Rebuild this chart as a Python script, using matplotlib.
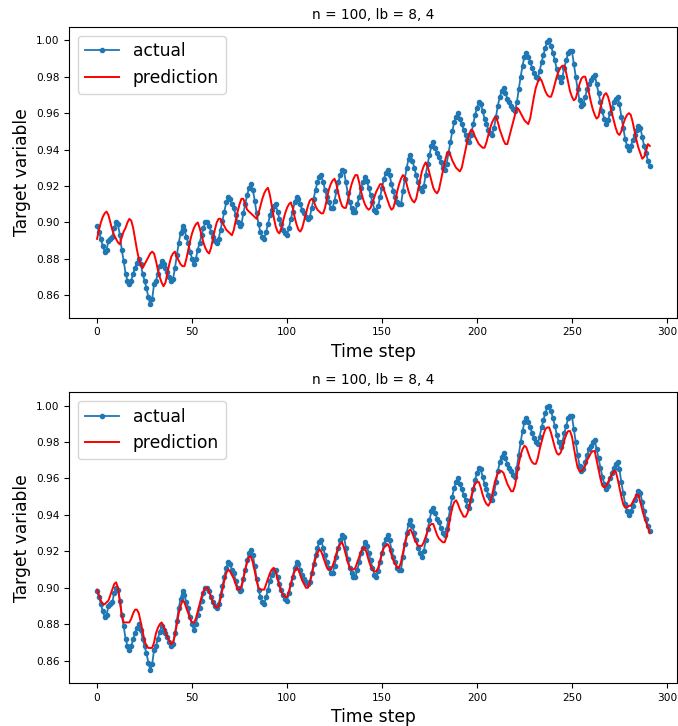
import numpy as np
import matplotlib
matplotlib.use('Agg')
import matplotlib.pyplot as plt


titleText = 'n = 100, lb = 8, 4'

# target variable, one value per time step (0 .. 291)
actual = [
    0.898, 0.895, 0.891, 0.887, 0.884, 0.885, 0.890, 0.891, 0.892, 0.897,
    0.900, 0.899, 0.893, 0.885, 0.879, 0.872, 0.868, 0.866, 0.868, 0.872,
    0.875, 0.878, 0.880, 0.877, 0.872, 0.868, 0.864, 0.859, 0.855, 0.858,
    0.866, 0.868, 0.872, 0.876, 0.879, 0.877, 0.875, 0.873, 0.870, 0.868,
    0.869, 0.875, 0.882, 0.889, 0.894, 0.898, 0.896, 0.892, 0.889, 0.884,
    0.880, 0.877, 0.880, 0.885, 0.889, 0.893, 0.897, 0.900, 0.900, 0.898,
    0.895, 0.892, 0.890, 0.889, 0.891, 0.896, 0.901, 0.906, 0.911, 0.914,
    0.913, 0.910, 0.908, 0.904, 0.900, 0.898, 0.899, 0.905, 0.910, 0.915,
    0.919, 0.921, 0.918, 0.912, 0.905, 0.899, 0.895, 0.892, 0.891, 0.895,
    0.899, 0.904, 0.907, 0.909, 0.910, 0.906, 0.902, 0.899, 0.896, 0.894,
    0.893, 0.897, 0.902, 0.906, 0.911, 0.914, 0.913, 0.910, 0.907, 0.905,
    0.903, 0.902, 0.903, 0.908, 0.913, 0.918, 0.922, 0.925, 0.926, 0.922,
    0.918, 0.914, 0.911, 0.908, 0.908, 0.912, 0.917, 0.922, 0.926, 0.929,
    0.928, 0.922, 0.916, 0.911, 0.908, 0.906, 0.906, 0.910, 0.914, 0.919,
    0.922, 0.925, 0.923, 0.919, 0.915, 0.911, 0.907, 0.906, 0.909, 0.914,
    0.919, 0.924, 0.927, 0.929, 0.926, 0.921, 0.917, 0.914, 0.911, 0.910,
    0.910, 0.917, 0.924, 0.930, 0.935, 0.937, 0.934, 0.930, 0.926, 0.922,
    0.919, 0.917, 0.920, 0.926, 0.932, 0.937, 0.942, 0.944, 0.941, 0.938,
    0.936, 0.933, 0.930, 0.929, 0.932, 0.938, 0.944, 0.950, 0.955, 0.958,
    0.960, 0.957, 0.954, 0.951, 0.948, 0.945, 0.944, 0.948, 0.954, 0.959,
    0.963, 0.966, 0.965, 0.961, 0.957, 0.954, 0.951, 0.949, 0.948, 0.952,
    0.958, 0.964, 0.969, 0.972, 0.974, 0.971, 0.968, 0.966, 0.964, 0.962,
    0.961, 0.966, 0.973, 0.980, 0.986, 0.991, 0.993, 0.991, 0.988, 0.985,
    0.982, 0.980, 0.979, 0.983, 0.988, 0.992, 0.996, 0.999, 1.000, 0.997,
    0.993, 0.989, 0.984, 0.980, 0.977, 0.980, 0.985, 0.989, 0.993, 0.994,
    0.994, 0.987, 0.980, 0.973, 0.967, 0.964, 0.965, 0.969, 0.973, 0.976,
    0.978, 0.980, 0.981, 0.976, 0.971, 0.966, 0.961, 0.957, 0.954, 0.956,
    0.960, 0.963, 0.966, 0.968, 0.969, 0.965, 0.958, 0.952, 0.946, 0.942,
    0.940, 0.942, 0.945, 0.948, 0.951, 0.953, 0.952, 0.947, 0.942, 0.938,
    0.934, 0.931,
]

# first model: lags the target by a few steps
predictionA = [
    0.891, 0.896, 0.900, 0.903, 0.905, 0.906, 0.904, 0.900, 0.896, 0.893,
    0.891, 0.889, 0.888, 0.892, 0.895, 0.897, 0.900, 0.902, 0.901, 0.897,
    0.891, 0.885, 0.880, 0.877, 0.875, 0.877, 0.879, 0.881, 0.883, 0.884,
    0.883, 0.879, 0.874, 0.870, 0.867, 0.865, 0.867, 0.872, 0.877, 0.881,
    0.883, 0.884, 0.881, 0.879, 0.877, 0.876, 0.876, 0.880, 0.885, 0.890,
    0.894, 0.897, 0.899, 0.900, 0.897, 0.893, 0.889, 0.886, 0.884, 0.883,
    0.886, 0.891, 0.896, 0.900, 0.902, 0.902, 0.900, 0.898, 0.896, 0.895,
    0.894, 0.893, 0.896, 0.901, 0.906, 0.910, 0.913, 0.913, 0.910, 0.907,
    0.906, 0.905, 0.904, 0.903, 0.902, 0.905, 0.909, 0.913, 0.916, 0.918,
    0.919, 0.915, 0.909, 0.903, 0.898, 0.895, 0.894, 0.897, 0.901, 0.905,
    0.908, 0.910, 0.911, 0.908, 0.903, 0.899, 0.896, 0.895, 0.897, 0.901,
    0.905, 0.909, 0.912, 0.913, 0.912, 0.909, 0.907, 0.906, 0.905, 0.905,
    0.908, 0.913, 0.918, 0.921, 0.923, 0.924, 0.921, 0.916, 0.912, 0.909,
    0.908, 0.908, 0.912, 0.917, 0.921, 0.924, 0.926, 0.926, 0.922, 0.917,
    0.913, 0.910, 0.908, 0.907, 0.908, 0.911, 0.914, 0.917, 0.919, 0.921,
    0.921, 0.918, 0.915, 0.912, 0.909, 0.907, 0.908, 0.912, 0.917, 0.921,
    0.924, 0.926, 0.925, 0.921, 0.917, 0.914, 0.912, 0.911, 0.913, 0.918,
    0.923, 0.928, 0.931, 0.933, 0.931, 0.927, 0.923, 0.919, 0.917, 0.916,
    0.918, 0.923, 0.928, 0.933, 0.937, 0.939, 0.937, 0.934, 0.932, 0.930,
    0.929, 0.928, 0.930, 0.935, 0.940, 0.945, 0.949, 0.951, 0.950, 0.947,
    0.945, 0.943, 0.942, 0.941, 0.941, 0.944, 0.948, 0.952, 0.955, 0.957,
    0.958, 0.955, 0.951, 0.948, 0.945, 0.943, 0.943, 0.947, 0.951, 0.955,
    0.959, 0.963, 0.962, 0.960, 0.958, 0.956, 0.955, 0.954, 0.957, 0.963,
    0.969, 0.974, 0.977, 0.979, 0.978, 0.975, 0.972, 0.970, 0.969, 0.969,
    0.972, 0.976, 0.980, 0.983, 0.985, 0.986, 0.986, 0.982, 0.977, 0.972,
    0.969, 0.967, 0.968, 0.972, 0.976, 0.979, 0.980, 0.980, 0.976, 0.971,
    0.966, 0.962, 0.959, 0.957, 0.958, 0.963, 0.967, 0.970, 0.971, 0.969,
    0.965, 0.960, 0.956, 0.952, 0.949, 0.948, 0.950, 0.954, 0.957, 0.959,
    0.960, 0.959, 0.955, 0.950, 0.945, 0.941, 0.938, 0.935, 0.936, 0.939,
    0.943, 0.942,
]

# second model: follows the target closely
predictionB = [
    0.899, 0.896, 0.893, 0.891, 0.891, 0.892, 0.893, 0.896, 0.899, 0.902,
    0.903, 0.900, 0.893, 0.885, 0.881, 0.881, 0.881, 0.881, 0.883, 0.886,
    0.888, 0.888, 0.886, 0.881, 0.876, 0.871, 0.868, 0.867, 0.867, 0.867,
    0.870, 0.875, 0.878, 0.880, 0.881, 0.879, 0.876, 0.873, 0.871, 0.869,
    0.870, 0.874, 0.880, 0.886, 0.890, 0.893, 0.892, 0.889, 0.886, 0.883,
    0.881, 0.881, 0.883, 0.887, 0.891, 0.895, 0.898, 0.900, 0.900, 0.898,
    0.895, 0.892, 0.890, 0.889, 0.890, 0.894, 0.899, 0.904, 0.908, 0.910,
    0.909, 0.907, 0.905, 0.902, 0.899, 0.899, 0.901, 0.905, 0.910, 0.914,
    0.917, 0.917, 0.914, 0.909, 0.904, 0.900, 0.899, 0.899, 0.899, 0.902,
    0.905, 0.908, 0.910, 0.911, 0.909, 0.905, 0.901, 0.898, 0.896, 0.895,
    0.895, 0.898, 0.902, 0.906, 0.909, 0.911, 0.910, 0.907, 0.904, 0.902,
    0.900, 0.900, 0.903, 0.907, 0.912, 0.916, 0.919, 0.921, 0.920, 0.917,
    0.914, 0.911, 0.910, 0.910, 0.912, 0.915, 0.919, 0.922, 0.924, 0.925,
    0.922, 0.918, 0.914, 0.911, 0.910, 0.910, 0.911, 0.914, 0.917, 0.920,
    0.922, 0.922, 0.919, 0.915, 0.912, 0.910, 0.909, 0.909, 0.911, 0.915,
    0.919, 0.922, 0.923, 0.924, 0.922, 0.918, 0.915, 0.913, 0.911, 0.911,
    0.914, 0.919, 0.924, 0.928, 0.931, 0.932, 0.930, 0.927, 0.925, 0.923,
    0.923, 0.923, 0.925, 0.928, 0.931, 0.934, 0.935, 0.935, 0.932, 0.929,
    0.927, 0.926, 0.925, 0.925, 0.928, 0.933, 0.939, 0.944, 0.947, 0.948,
    0.946, 0.943, 0.941, 0.939, 0.939, 0.941, 0.945, 0.950, 0.954, 0.957,
    0.958, 0.958, 0.955, 0.951, 0.948, 0.946, 0.945, 0.947, 0.951, 0.956,
    0.960, 0.963, 0.964, 0.964, 0.963, 0.960, 0.957, 0.955, 0.953, 0.953,
    0.956, 0.962, 0.968, 0.973, 0.976, 0.978, 0.977, 0.974, 0.971, 0.969,
    0.968, 0.968, 0.971, 0.976, 0.980, 0.984, 0.987, 0.988, 0.988, 0.985,
    0.981, 0.977, 0.974, 0.973, 0.974, 0.977, 0.981, 0.984, 0.986, 0.986,
    0.983, 0.977, 0.971, 0.966, 0.964, 0.964, 0.965, 0.967, 0.970, 0.972,
    0.974, 0.975, 0.975, 0.970, 0.965, 0.960, 0.956, 0.955, 0.956, 0.958,
    0.960, 0.962, 0.964, 0.964, 0.960, 0.955, 0.950, 0.946, 0.944, 0.944,
    0.945, 0.945, 0.947, 0.949, 0.951, 0.951, 0.947, 0.943, 0.939, 0.936,
    0.933, 0.930,
]

timeSteps = np.arange(len(actual))

# figure is sized in pixels, 100 px per inch
fig = plt.figure(figsize=(6.78, 7.26), dpi=100)

axTop = fig.add_axes([0.1024, 0.5624, 0.8968, 0.4004])
axBottom = fig.add_axes([0.1024, 0.0592, 0.8968, 0.4004])

for ax, prediction in ((axTop, predictionA), (axBottom, predictionB)):
    ax.plot(timeSteps, actual, marker='.', markersize=6, linewidth=1.3, label='actual')
    ax.plot(timeSteps, prediction, 'r', linewidth=1.4, label='prediction')
    ax.set_title(titleText, fontsize=9.8)
    ax.set_xlabel('Time step', fontsize=12.3)
    ax.set_ylabel('Target variable', fontsize=12.3)
    ax.tick_params(labelsize=7.6)
    ax.set_xticks([0, 50, 100, 150, 200, 250, 300])
    ax.yaxis.set_major_formatter(matplotlib.ticker.FormatStrFormatter('%.2f'))
    ax.legend(loc='upper left', fontsize=12.3)

fig.savefig('out.png', dpi=100)
